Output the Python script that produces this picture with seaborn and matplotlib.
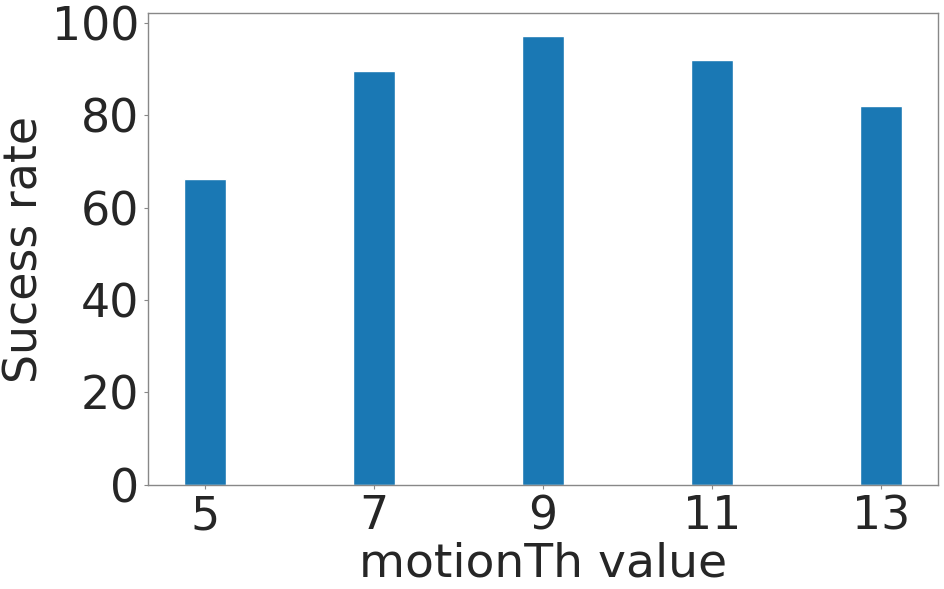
import pandas as pd
import seaborn as sns
import matplotlib.pyplot as plt

# motionTh threshold vs success rate
motion_th = [5, 7, 9, 11, 13]
success_rate = [66.2, 89.5, 97.1, 91.9, 82.0]

df = pd.DataFrame({"motionTh": motion_th, "rate": success_rate})

sns.set_style("white")
plt.rcParams["font.family"] = ["DejaVu Sans"]

fig = plt.figure(figsize=(9.45, 5.89), dpi=100)
ax = fig.add_axes([0.1566, 0.1766, 0.836, 0.8008])

sns.barplot(
    data=df,
    x="motionTh",
    y="rate",
    native_scale=True,
    width=0.25,
    color="#1a78b4",
    saturation=1,
    ax=ax
)

ax.set_xlim(4.325, 13.675)
ax.set_ylim(0, 102)
ax.set_xticks(motion_th)
ax.set_yticks([0, 20, 40, 60, 80, 100])

ax.set_xlabel("motionTh value", fontsize=34, color="#262626", labelpad=2)
ax.set_ylabel("Sucess rate", fontsize=33, color="#262626", labelpad=3)
ax.tick_params(labelsize=33, labelcolor="#262626", colors="#888888",
               length=3, left=True, bottom=True)

for s in ax.spines.values():
    s.set_color("#888888")
    s.set_linewidth(1.0)

fig.savefig("out.png", dpi=100)
